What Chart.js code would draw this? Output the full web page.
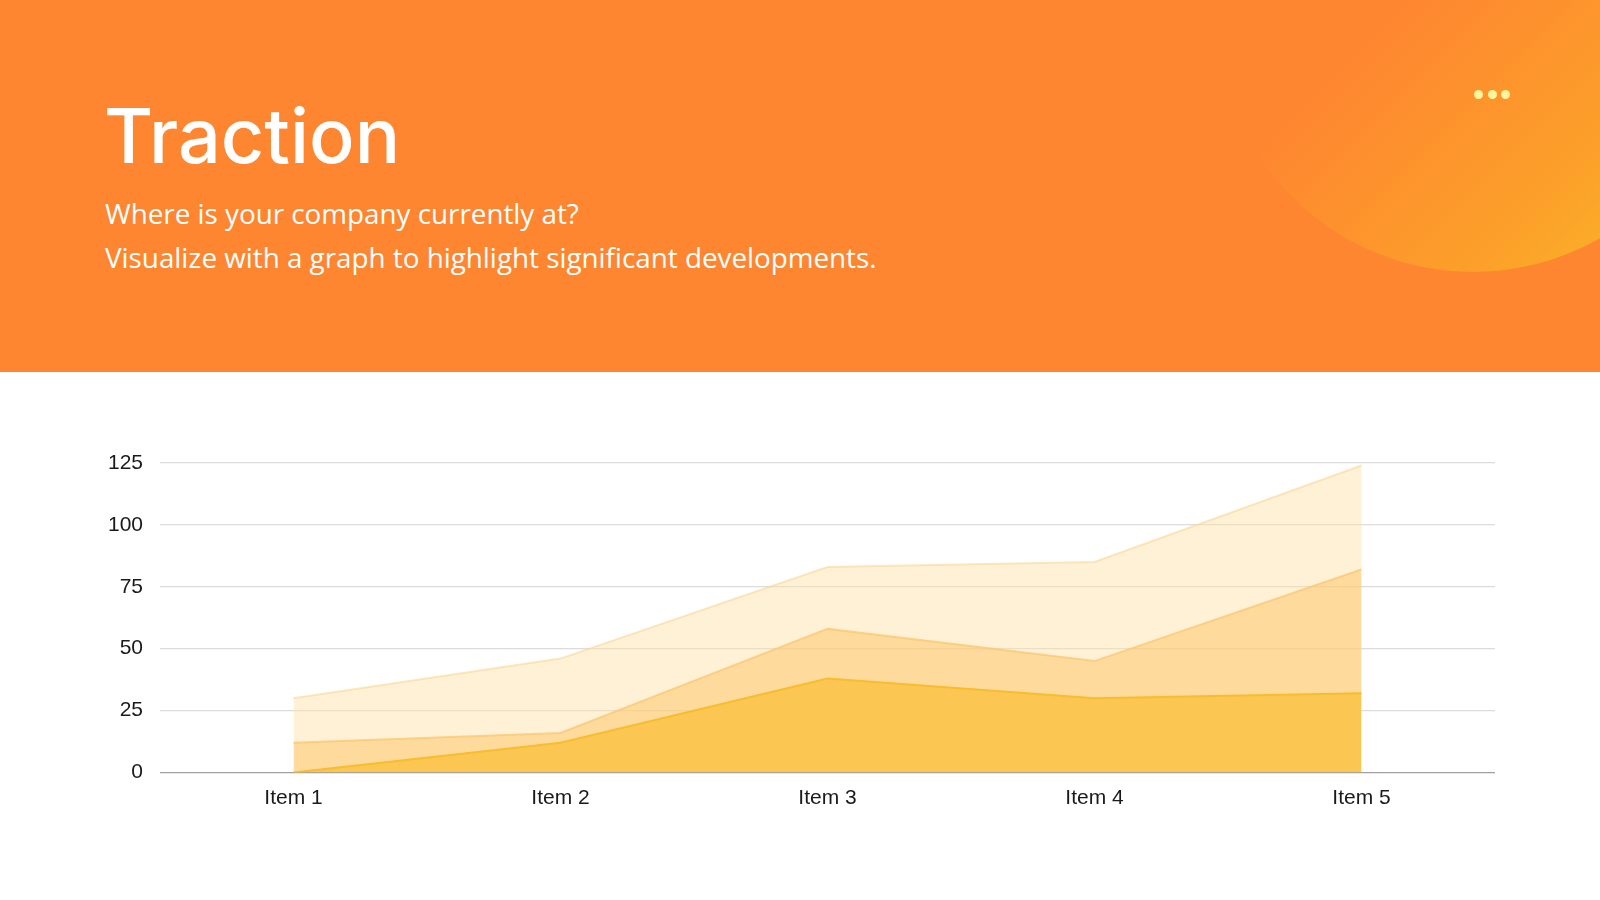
<!DOCTYPE html>
<html>
<head>
<meta charset="utf-8">
<script src="https://cdn.jsdelivr.net/npm/chart.js@4"></script>
<style>
  html, body { margin: 0; padding: 0; width: 1600px; height: 900px; background: #fff; overflow: hidden; }
  .header { position: absolute; left: 0; top: 0; width: 1600px; height: 372px; background: #fe8630; overflow: hidden; }
  .blob { position: absolute; left: 1218px; top: -238px; width: 510px; height: 510px; border-radius: 50%;
    background: linear-gradient(135deg, #fe8630 42%, #fd962c 62%, #fca02a 75%, #fbb027 88%); }
  .dots { position: absolute; top: 85px; left: 1474px; }
  .dots span { display: inline-block; width: 9px; height: 9px; border-radius: 50%; background: #fff59c; margin-right: 4.5px; }
  h1 { position: absolute; left: 104px; top: 98px; margin: 0; font-family: Inter, sans-serif; font-weight: 500;
    font-size: 75.5px; color: #fff; line-height: 1; }
  .sub { position: absolute; left: 105px; top: 191px; margin: 0; font-family: "Open Sans", sans-serif; font-size: 27.8px;
    line-height: 44px; color: #fff; }
  .wrap { position: absolute; left: 0; top: 372px; width: 1600px; height: 528px; }
</style>
</head>
<body>
<div class="header">
  <div class="blob"></div>
  <div class="dots"><span></span><span></span><span></span></div>
  <h1>Traction</h1>
  <p class="sub">Where is your company currently at?<br>Visualize with a graph to highlight significant developments.</p>
</div>
<div class="wrap"><canvas id="myChart"></canvas></div>
<script>
const categories = ["Item 1", "Item 2", "Item 3", "Item 4", "Item 5"];
const seriesA = [0, 12, 38, 30, 32];
const seriesB = [12, 4, 20, 15, 50];
const seriesC = [18, 30, 25, 40, 42];
const yTicks = [0, 25, 50, 75, 100, 125];

Chart.defaults.font.family = "'Liberation Sans', Arial, sans-serif";
Chart.defaults.color = "#1a1a1a";

let data = {
  labels: categories,
  datasets: [
    {
      data: seriesA,
      fill: "origin",
      backgroundColor: "#fbc651",
      borderColor: "#f8bd2e",
    },
    {
      data: seriesB,
      fill: "-1",
      backgroundColor: "rgba(253, 206, 124, 0.75)",
      borderColor: "rgba(252, 200, 115, 0.8)",
    },
    {
      data: seriesC,
      fill: "-1",
      backgroundColor: "rgba(253, 223, 165, 0.45)",
      borderColor: "rgba(252, 214, 150, 0.6)",
    },
  ],
};

new Chart(document.getElementById("myChart"), {
  type: "line",
  data: data,
  options: {
    responsive: true,
    maintainAspectRatio: false,
    animation: false,
    layout: { padding: { top: 91, right: 105, bottom: 87.5, left: 0 } },
    elements: {
      line: { borderWidth: 2, tension: 0 },
      point: { radius: 0, hoverRadius: 0 },
    },
    plugins: { legend: { display: false }, tooltip: { enabled: false } },
    scales: {
      x: {
        offset: true,
        grid: { display: false, drawTicks: false },
        border: { display: false },
        ticks: { font: { size: 21 }, padding: 13, color: "#1a1a1a" },
        afterFit: (scale) => { scale.height = 40; },
      },
      y: {
        stacked: true,
        min: 0,
        max: 125,
        afterBuildTicks: (scale) => { scale.ticks = yTicks.map((v) => ({ value: v })); },
        grid: {
          drawTicks: false,
          color: (c) => (c.tick && c.tick.value === 0 ? "#a0a0a0" : "#dcdcdc"),
          lineWidth: 1.3,
        },
        border: { display: false },
        ticks: { font: { size: 21 }, padding: 17, color: "#1a1a1a" },
        afterFit: (scale) => { scale.width = 160; },
      },
    },
  },
});
</script>
</body>
</html>
